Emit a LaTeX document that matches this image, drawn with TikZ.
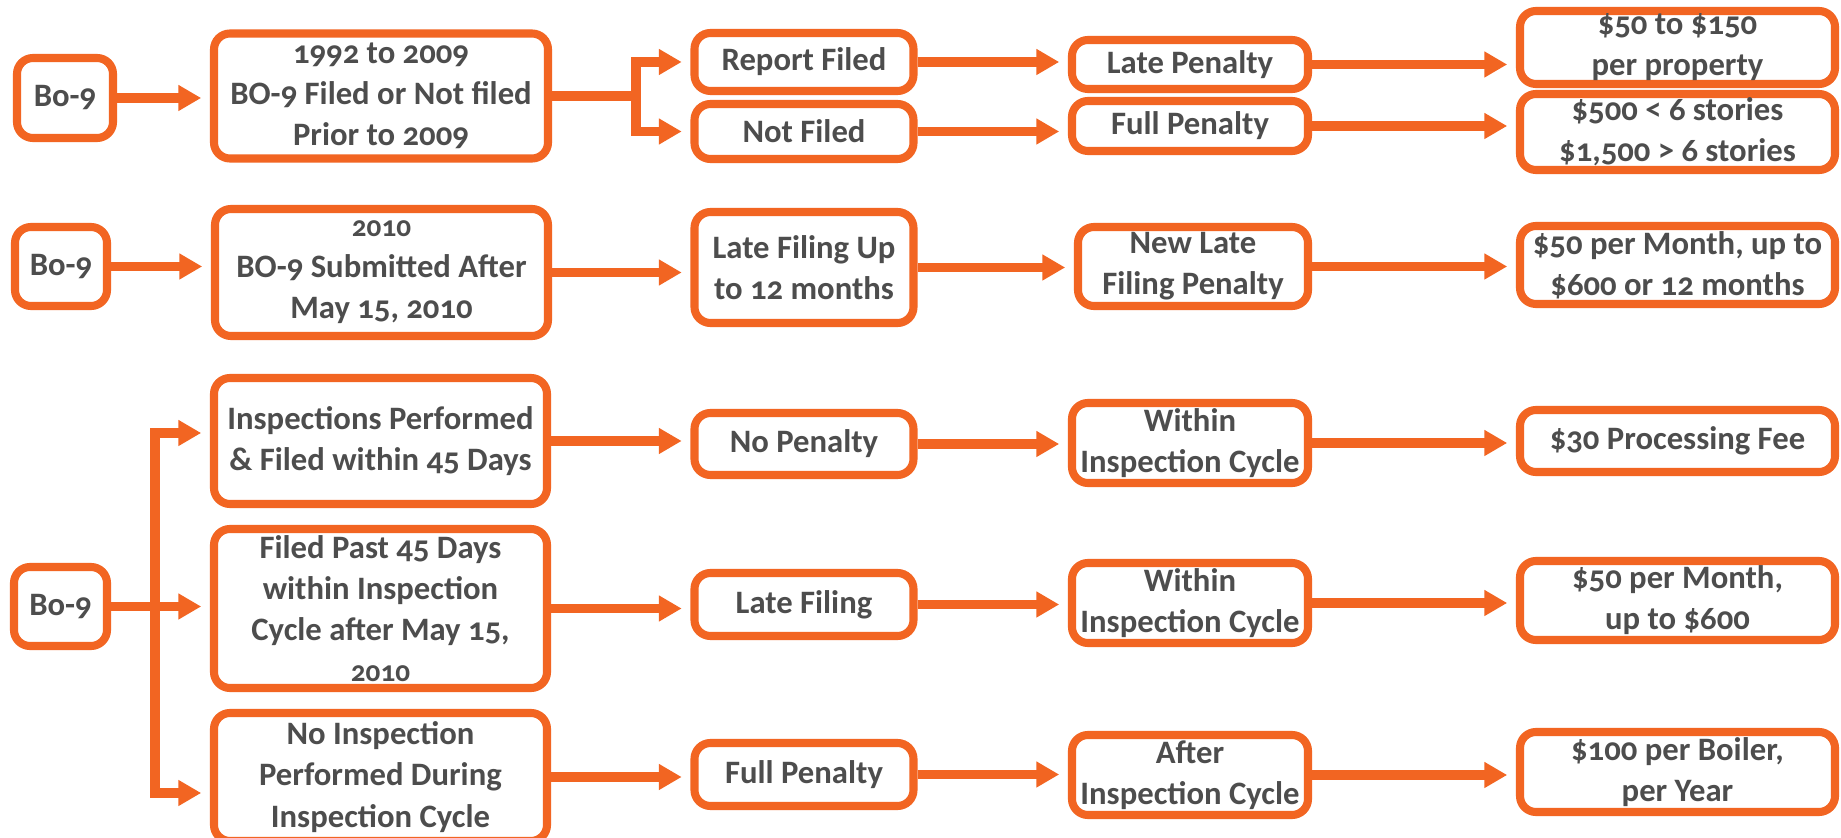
\documentclass[tikz,border=0pt]{standalone}
\usepackage{fontspec}
\setmainfont{Carlito}[Numbers=OldStyle]
\usepackage{xcolor}
\usepackage{tikz}
\usetikzlibrary{arrows.meta}
\definecolor{orng}{HTML}{F26522}
\definecolor{txtgray}{HTML}{4D4D4D}

\begin{document}
\begin{tikzpicture}[
		box/.style={draw=orng, line width=2.3pt, rounded corners=0.16cm, fill=white, text=txtgray, align=center, inner sep=0pt, font=\fontsize{9.3}{11.7}\selectfont\bfseries},
		stem/.style={draw=orng, line width=2.6pt},
		flow/.style={stem, -{Triangle[length=6.5pt,width=7pt]}, shorten >=2.5pt}]
				\path [fill=white] (0,0) rectangle (18.41,-8.38);
				\useasboundingbox (0,0) rectangle (18.41,-8.38);
				
				\node [box, minimum width=0.96cm, minimum height=0.80cm] (bo1) at (0.65,-0.98) {Bo-9};
				\node [box, minimum width=3.34cm, minimum height=1.25cm] (filed) at (3.81,-0.96) {1992 to 2009\\BO-9 Filed or Not filed\\Prior to 2009};
				\node [box, minimum width=2.19cm, minimum height=0.58cm] (report) at (8.04,-0.62) {Report Filed};
				\node [box, minimum width=2.19cm, minimum height=0.55cm] (notfiled) at (8.04,-1.315) {Not Filed};
				\node [box, minimum width=2.36cm, minimum height=0.49cm] (late) at (11.9,-0.645) {Late Penalty};
				\node [box, minimum width=2.36cm, minimum height=0.50cm] (full) at (11.9,-1.26) {Full Penalty};
				\node [box, minimum width=3.15cm, minimum height=0.73cm] (fine1) at (16.775,-0.475) {\$50 to \$150\\per property};
				\node [box, minimum width=3.15cm, minimum height=0.76cm] (fine2) at (16.775,-1.32) {\$500 < 6 stories\\\$1,500 > 6 stories};
				\coordinate (j1) at (6.36,-0.96);
				
				\draw [flow] (bo1.east) -- (bo1.east -| filed.west);
				\draw [stem] (filed.east) -- (j1);
				\draw [flow] (j1) |- (report.west);
				\draw [flow] (j1) |- (notfiled.west);
				\draw [flow] (report.east) -- (report.east -| late.west);
				\draw [flow] (notfiled.east) -- (notfiled.east -| full.west);
				\draw [flow] (late.east) -- (late.east -| fine1.west);
				\draw [flow] (full.east) -- (full.east -| fine2.west);
				
				\node [box, minimum width=0.92cm, minimum height=0.79cm] (bo2) at (0.61,-2.665) {Bo-9};
				\node [box, minimum width=3.33cm, minimum height=1.27cm] (sub) at (3.815,-2.725) {{\fontsize{8.3}{10}\selectfont 2010}\\BO-9 Submitted After\\May 15, 2010};
				\node [box, minimum width=2.19cm, minimum height=1.11cm] (upto) at (8.04,-2.675) {Late Filing Up\\to 12 months};
				\node [box, minimum width=2.30cm, minimum height=0.79cm] (newlate) at (11.93,-2.665) {New Late\\Filing Penalty};
				\node [box, minimum width=3.15cm, minimum height=0.78cm] (fine3) at (16.775,-2.65) {\$50 per Month, up to\\\$600 or 12 months};
				
				\draw [flow] (bo2.east) -- (bo2.east -| sub.west);
				\draw [flow] (sub.east) -- (sub.east -| upto.west);
				\draw [flow] (upto.east) -- (upto.east -| newlate.west);
				\draw [flow] (newlate.east) -- (newlate.east -| fine3.west);
				
				\node [box, minimum width=0.93cm, minimum height=0.79cm] (bo3) at (0.605,-6.065) {Bo-9};
				\node [box, minimum width=3.33cm, minimum height=1.26cm] (insp) at (3.805,-4.41) {Inspections Performed\\\& Filed within 45 Days};
				\node [box, minimum width=3.33cm, minimum height=1.59cm] (past) at (3.805,-6.085) {Filed Past 45 Days\\within Inspection\\Cycle after May 15,\\{\fontsize{8.3}{10}\selectfont 2010}};
				\node [box, minimum width=3.33cm, minimum height=1.28cm] (noinsp) at (3.805,-7.77) {No Inspection\\Performed During\\Inspection Cycle};
				\node [box, minimum width=2.19cm, minimum height=0.62cm] (nopen) at (8.04,-4.44) {No Penalty};
				\node [box, minimum width=2.19cm, minimum height=0.63cm] (latef) at (8.04,-6.045) {Late Filing};
				\node [box, minimum width=2.19cm, minimum height=0.63cm] (fullp) at (8.04,-7.745) {Full Penalty};
				\node [box, minimum width=2.36cm, minimum height=0.80cm] (within1) at (11.9,-4.43) {Within\\Inspection Cycle};
				\node [box, minimum width=2.36cm, minimum height=0.80cm] (within2) at (11.9,-6.03) {Within\\Inspection Cycle};
				\node [box, minimum width=2.36cm, minimum height=0.80cm] (after) at (11.9,-7.75) {After\\Inspection Cycle};
				\node [box, minimum width=3.15cm, minimum height=0.62cm] (fee) at (16.775,-4.41) {\$30 Processing Fee};
				\node [box, minimum width=3.15cm, minimum height=0.79cm] (month) at (16.775,-6.005) {\$50 per Month,\\up to \$600};
				\node [box, minimum width=3.15cm, minimum height=0.80cm] (boiler) at (16.775,-7.72) {\$100 per Boiler,\\per Year};
				\coordinate (j3) at (1.55,-6.065);
				
				\draw [flow] (bo3.east) -- (bo3.east -| past.west);
				\draw [flow] (j3) |- ([yshift=0.08cm]insp.west);
				\draw [flow] (j3) |- ([yshift=-0.16cm]noinsp.west);
				\draw [flow] (insp.east) -- (insp.east -| nopen.west);
				\draw [flow] (past.east) -- (past.east -| latef.west);
				\draw [flow] (noinsp.east) -- (noinsp.east -| fullp.west);
				\draw [flow] (nopen.east) -- (nopen.east -| within1.west);
				\draw [flow] (latef.east) -- (latef.east -| within2.west);
				\draw [flow] (fullp.east) -- (fullp.east -| after.west);
				\draw [flow] (within1.east) -- (within1.east -| fee.west);
				\draw [flow] (within2.east) -- (within2.east -| month.west);
				\draw [flow] (after.east) -- (after.east -| boiler.west);
\end{tikzpicture}
\end{document}
